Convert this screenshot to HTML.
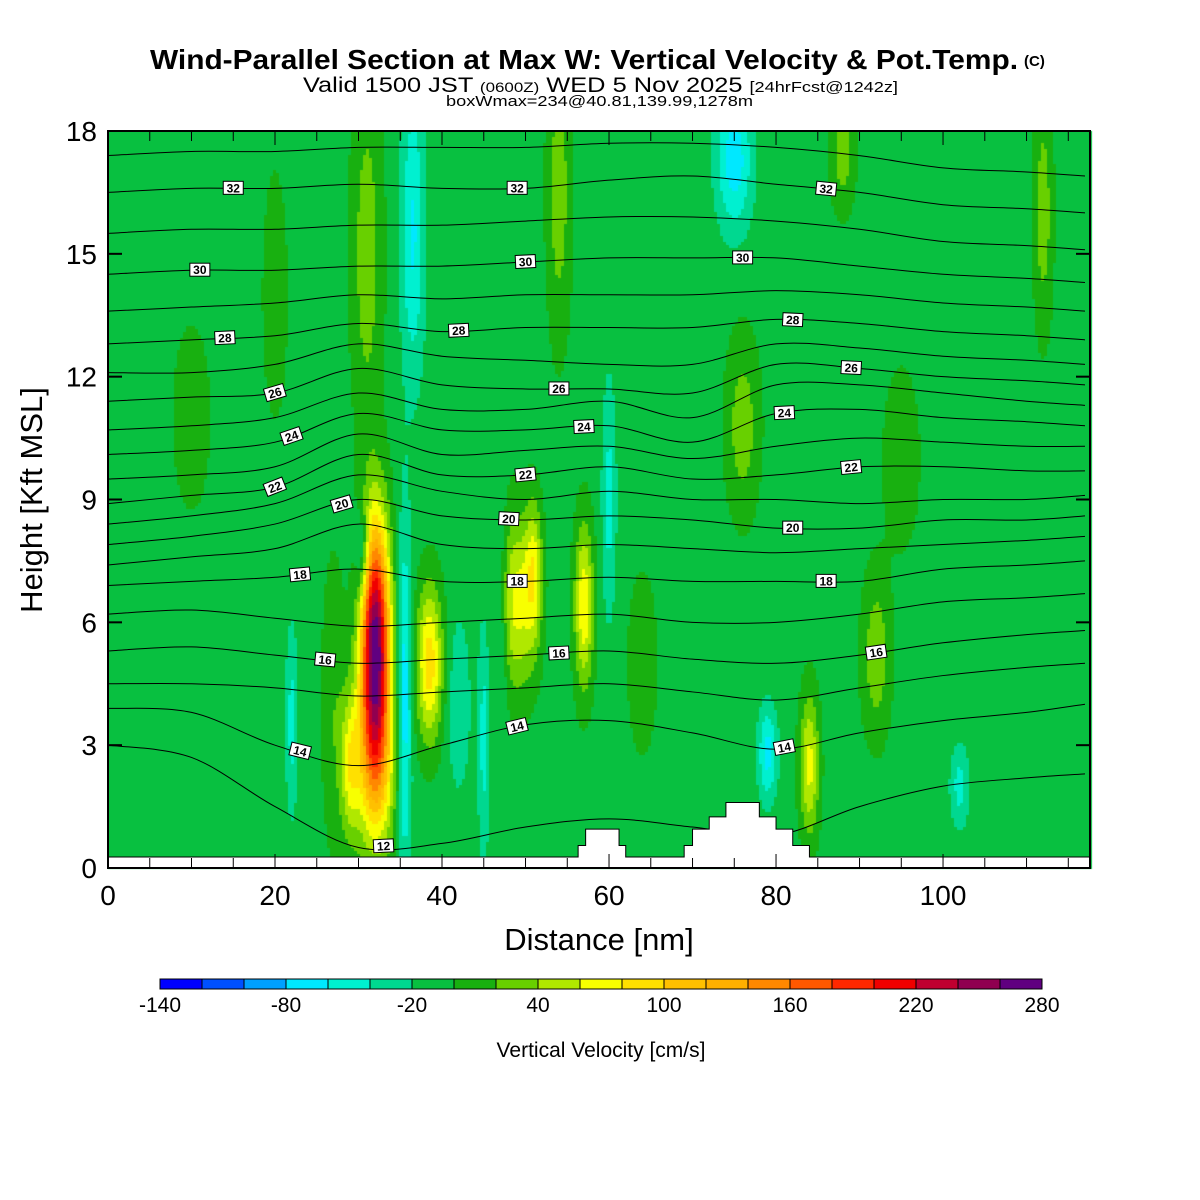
<!DOCTYPE html>
<html><head><meta charset="utf-8"><style>
body{margin:0;background:#fff;width:1200px;height:1200px;overflow:hidden;font-family:"Liberation Sans",sans-serif}
#wrap{position:relative;width:1200px;height:1200px}
canvas{position:absolute;left:0;top:0}
svg{position:absolute;left:0;top:0}
</style></head><body><div id="wrap">
<canvas id="cv" width="1200" height="1200"></canvas>
<svg id="sv" width="1200" height="1200"></svg>
</div>
<script>
// ---- data ----
const xGrid=[0,10,20,30,40,50,60,70,80,90,100,110,117];
const thetaLevels=[12,14,15,16,17,18,19,20,21,22,23,24,25,26,27,28,29,30,31,32,33];
const thetaHeights=[
[3.0,2.7,1.5,0.5,0.6,1.0,1.2,1.0,0.8,1.5,2.0,2.2,2.3],
[3.9,3.8,3.0,2.5,3.0,3.5,3.6,3.3,2.9,3.3,3.6,3.8,4.0],
[4.5,4.5,4.4,4.2,4.3,4.4,4.5,4.3,4.1,4.4,4.7,4.9,5.0],
[5.3,5.4,5.2,5.0,5.1,5.2,5.3,5.1,5.0,5.2,5.5,5.7,5.8],
[6.2,6.3,6.1,5.9,6.0,6.1,6.2,6.0,6.0,6.2,6.5,6.6,6.7],
[6.9,7.0,7.1,7.3,7.0,7.0,7.1,7.0,7.0,7.0,7.3,7.4,7.5],
[7.4,7.6,7.8,8.4,7.9,7.8,7.9,7.8,7.7,7.8,7.9,8.0,8.1],
[7.9,8.1,8.4,9.0,8.6,8.5,8.6,8.5,8.3,8.3,8.5,8.5,8.6],
[8.4,8.6,8.9,9.6,9.2,9.0,9.2,9.0,9.0,8.9,9.0,9.0,9.1],
[8.9,9.1,9.3,10.1,9.6,9.6,9.8,9.5,9.6,9.8,9.8,9.7,9.7],
[9.5,9.6,9.8,10.6,10.1,10.2,10.3,10.0,10.3,10.5,10.4,10.3,10.3],
[10.1,10.2,10.4,11.1,10.7,10.7,10.8,10.4,11.1,11.2,11.0,10.9,10.8],
[10.7,10.8,11.0,11.6,11.2,11.2,11.4,11.0,11.8,11.8,11.6,11.4,11.3],
[11.4,11.5,11.6,12.2,11.8,11.7,11.7,11.6,12.3,12.2,12.0,11.9,11.8],
[12.1,12.1,12.3,12.8,12.5,12.4,12.3,12.3,12.8,12.7,12.5,12.4,12.3],
[12.8,12.9,13.0,13.3,13.1,13.2,13.2,13.2,13.4,13.3,13.1,13.0,12.9],
[13.6,13.7,13.8,14.0,13.9,14.0,14.0,14.0,14.1,14.0,13.8,13.7,13.6],
[14.5,14.6,14.6,14.7,14.7,14.8,14.9,14.9,14.9,14.7,14.5,14.4,14.3],
[15.5,15.6,15.6,15.7,15.7,15.8,15.9,15.9,15.8,15.6,15.3,15.2,15.1],
[16.5,16.6,16.6,16.7,16.6,16.6,16.8,16.9,16.7,16.5,16.2,16.1,16.0],
[17.4,17.5,17.5,17.6,17.6,17.6,17.7,17.7,17.6,17.4,17.1,17.0,16.9]];
const labelLevels=[32,32,32,30,30,30,28,28,28,26,26,26,24,24,24,22,22,22,20,20,20,18,18,18,16,16,16,14,14,14,12];
const labelX=[15,49,86,11,50,76,14,42,82,20,54,89,22,57,81,20,50,89,28,48,82,23,49,86,26,54,92,23,49,81,33];
// updraft/downdraft blobs: x(nm), h(kft), sx, sh, amplitude(cm/s)
const blobX=[32,32,38.5,29,35.5,30.5,49,51,57,45,36.5,31,75,76,84,92,79,102,22,54,88,20,60,42,64,95,10,112,27,47];
const blobH=[5.6,2.6,5.0,2.5,4.0,7.6,6.5,7.2,6.4,3.2,15.5,15,17.3,10.8,2.5,5.2,2.8,2.0,3.6,16.5,17.5,14,9,4,5,10,11,16,4,6];
const blobSX=[1.2,1.6,1.1,0.8,0.6,0.6,1.5,0.7,0.8,0.5,1.0,1.3,1.5,1.4,0.8,1.2,0.8,0.8,0.5,1.0,1.0,1.0,0.6,1.0,1.2,1.5,1.5,0.8,1.0,0.6];
const blobSH=[2.0,1.6,1.3,1.2,3.0,0.8,1.5,1.2,1.4,2.0,2.5,3.0,1.2,1.5,1.2,1.4,0.8,0.7,1.6,2.5,1.0,2.0,2.0,1.5,1.5,1.5,1.5,2.0,2.5,2.0];
const blobAmp=[270,110,100,70,-70,-60,75,65,85,-40,-55,40,-65,40,75,42,-60,-40,-40,40,40,25,-40,-30,25,25,25,40,25,-30];
const background=-8;
const terrainX=[0,56.3,57.2,61.2,62,69,70,72,74,78,80,82,84,117.6];
const terrainH=[0.27,0.55,0.95,0.55,0.27,0.55,0.95,1.25,1.6,1.25,0.95,0.55,0.27,0.27];
const cbColors=["#0000ff","#0050ff","#00a0ff","#00e8ff","#00f0d0","#00d890","#08c040","#18b010","#68d000","#b0e800","#f8ff00","#ffe000","#ffc000","#ffb000","#ff8800","#ff5800","#ff2800","#f00000","#c00030","#900050","#600080"];
const cbTicks=[-140,-80,-20,40,100,160,220,280];
const xTicks=[0,20,40,60,80,100];
const yTicks=[0,3,6,9,12,15,18];
// ---- scales ----
const X0=108,X1=1090,Y0=868,Y1=131,XMAX=117.6,YMAX=18;
const sx=v=>X0+v/XMAX*(X1-X0), sy=v=>Y0-v/YMAX*(Y0-Y1);
const ix=px=>(px-X0)/(X1-X0)*XMAX, iy=py=>(Y0-py)/(Y0-Y1)*YMAX;
const wMin=-140,wStep=20;
function colorFor(w){let i=Math.floor((w-wMin)/wStep);i=Math.max(0,Math.min(cbColors.length-1,i));return cbColors[i];}
function wAt(x,h){let w=background;for(let i=0;i<blobX.length;i++){const dx=(x-blobX[i])/blobSX[i],dh=(h-blobH[i])/blobSH[i];w+=blobAmp[i]*Math.exp(-0.5*(dx*dx+dh*dh));}return w;}
// field
const ctx=document.getElementById('cv').getContext('2d');
const S=3;
for(let py=Y1;py<Y0;py+=S){for(let px=X0;px<X1;px+=S){ctx.fillStyle=colorFor(wAt(ix(px+S/2),iy(py+S/2)));ctx.fillRect(px,py,S,S);}}
// ---- svg ----
const NS="http://www.w3.org/2000/svg",sv=document.getElementById('sv');
function el(t,a,p){const e=document.createElementNS(NS,t);for(const k in a)e.setAttribute(k,a[k]);(p||sv).appendChild(e);return e;}
function hAt(arr,x){for(let i=0;i<xGrid.length-1;i++){if(x<=xGrid[i+1]){const t=(x-xGrid[i])/(xGrid[i+1]-xGrid[i]);return arr[i]+(arr[i+1]-arr[i])*t;}}return arr[arr.length-1];}
// contours
const cg=el('g',{});

thetaLevels.forEach((lv,li)=>{const a=thetaHeights[li];const pts=a.map((h,i)=>[sx(xGrid[i]),sy(h)]);
 let d=`M${pts[0][0]},${pts[0][1]}`;
 for(let i=0;i<pts.length-1;i++){const p0=pts[Math.max(0,i-1)],p1=pts[i],p2=pts[i+1],p3=pts[Math.min(pts.length-1,i+2)];
 d+=` C${p1[0]+(p2[0]-p0[0])/6},${p1[1]+(p2[1]-p0[1])/6} ${p2[0]-(p3[0]-p1[0])/6},${p2[1]-(p3[1]-p1[1])/6} ${p2[0]},${p2[1]}`;}
 const p=el('path',{d:d,fill:'none',stroke:'#000','stroke-width':1},cg);
 });
// terrain
let td=`M${sx(0)},${Y0}`;terrainX.forEach((x,i)=>{if(i>0)td+=` L${sx(x)},${sy(terrainH[i-1])}`;td+=` L${sx(x)},${sy(terrainH[i])}`;});td+=` L${X1},${Y0} Z`;
const tp=el('path',{d:td,fill:'#fff',stroke:'#000','stroke-width':1});

// labels
labelLevels.forEach((lv,i)=>{const li=thetaLevels.indexOf(lv);const x=labelX[i],h=hAt(thetaHeights[li],x);
 const h2=hAt(thetaHeights[li],x+1);const ang=Math.atan2(sy(h2)-sy(h),sx(x+1)-sx(x))*180/Math.PI;
 const g=el('g',{transform:`translate(${sx(x)},${sy(h)}) rotate(${ang})`});
 
 el('rect',{x:-10,y:-7,width:20,height:13,fill:'#fff',stroke:'#000','stroke-width':1},g);
 const t=el('text',{x:0,y:4,'font-size':12,'font-weight':'bold','text-anchor':'middle'},g);t.textContent=lv;});
// frame
const fr=el('rect',{x:X0,y:Y1,width:X1-X0,height:Y0-Y1,fill:'none',stroke:'#000','stroke-width':2});

for(let v=0;v<=115;v+=5){const mj=v%20==0;el('line',{x1:sx(v),x2:sx(v),y1:Y0,y2:Y0-(mj?14:10),stroke:'#000','stroke-width':1});el('line',{x1:sx(v),x2:sx(v),y1:Y1,y2:Y1+(mj?14:10),stroke:'#000','stroke-width':1});}
xTicks.forEach(v=>{const t=el('text',{x:sx(v),y:905,'font-size':28,'text-anchor':'middle'});t.textContent=v;
 });
yTicks.forEach(v=>{el('line',{x1:X0,x2:X0+14,y1:sy(v),y2:sy(v),stroke:'#000','stroke-width':2});el('line',{x1:X1,x2:X1-14,y1:sy(v),y2:sy(v),stroke:'#000','stroke-width':2});
 const t=el('text',{x:97,y:sy(v)+10,'font-size':28,'text-anchor':'end'});t.textContent=v;
 });
let t=el('text',{x:599,y:950,'font-size':31,'text-anchor':'middle'});t.textContent='Distance [nm]';
t=el('text',{x:0,y:0,'font-size':31,'text-anchor':'middle',transform:'translate(42,500) rotate(-90)'});t.textContent='Height [Kft MSL]';
// titles
t=el('text',{x:150,y:69,'font-size':28,'font-weight':'bold',textLength:868,lengthAdjust:'spacingAndGlyphs'});t.textContent='Wind-Parallel Section at Max W: Vertical Velocity & Pot.Temp.';
t=el('text',{x:1024,y:66,'font-size':15,'font-weight':'bold'});t.textContent='(C)';
t=el('text',{x:303,y:92,'font-size':21,textLength:595,lengthAdjust:'spacingAndGlyphs'});
t.innerHTML='Valid 1500 JST <tspan font-size="14">(0600Z)</tspan> WED 5 Nov 2025 <tspan font-size="15">[24hrFcst@1242z]</tspan>';
t=el('text',{x:446,y:106,'font-size':15,textLength:307,lengthAdjust:'spacingAndGlyphs'});t.textContent='boxWmax=234@40.81,139.99,1278m';
// colorbar
const cb=el('g',{});
const CB0=160,CB1=1042,bw=(CB1-CB0)/cbColors.length;
cbColors.forEach((c,i)=>{const r=el('rect',{x:CB0+i*bw,y:979,width:bw,height:10,fill:c,stroke:'#000','stroke-width':1},cb);});
cbTicks.forEach(v=>{const tt=el('text',{x:CB0+(v-wMin)/wStep*bw,y:1012,'font-size':21,'text-anchor':'middle'},cb);tt.textContent=v;});
t=el('text',{x:601,y:1057,'font-size':21,'text-anchor':'middle'});t.textContent='Vertical Velocity [cm/s]';
</script></body></html>
